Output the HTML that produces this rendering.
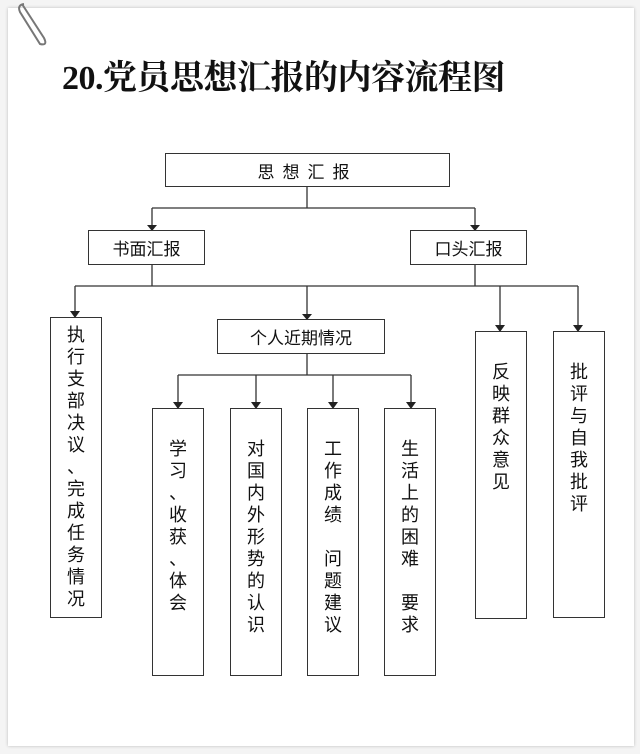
<!DOCTYPE html>
<html><head><meta charset="utf-8"><style>
body{margin:0;width:640px;height:754px;background:#f4f4f4;position:relative;overflow:hidden;font-family:"Liberation Serif","Noto Serif CJK SC","Noto Sans CJK SC",serif;}
.card{position:absolute;left:8px;top:8px;width:626px;height:738px;background:#fff;box-shadow:0 0 3px #bbb;}
.t{position:absolute;left:62px;top:50px;font-size:34px;font-weight:bold;color:#111;letter-spacing:-0.5px;white-space:nowrap;}
.b{position:absolute;border:1.5px solid #333;box-sizing:border-box;background:#fff;color:#111;font-family:"Noto Sans CJK SC",sans-serif;font-size:17px;text-align:center;}
.h{display:flex;align-items:center;justify-content:center;}
.v{line-height:22px;font-size:18px;}
</style></head><body>
<div class="card"></div>
<svg style="position:absolute;left:0;top:0" width="640" height="754">
<path d="M22 4 L44 38 Q48 46 40 44 L20 12 Q17 5 24 4" fill="none" stroke="#777" stroke-width="2"/>
<g stroke="#333" stroke-width="1.3" fill="none">
<path d="M307 186 V208 M152 208 H475 M152 208 V226 M475 208 V226"/>
<path d="M152 264 V286 M475 264 V286 M75 286 H578 M75 286 V313 M307 286 V316 M500 286 V327 M578 286 V327"/>
<path d="M307 353 V375 M178 375 H411 M178 375 V404 M256 375 V404 M333 375 V404 M411 375 V404"/>
</g>
<g fill="#222">
<path d="M147 225 L157 225 L152 231Z"/><path d="M470 225 L480 225 L475 231Z"/>
<path d="M70 311 L80 311 L75 318Z"/><path d="M302 314 L312 314 L307 320Z"/>
<path d="M495 325 L505 325 L500 332Z"/><path d="M573 325 L583 325 L578 332Z"/>
<path d="M173 402 L183 402 L178 409Z"/><path d="M251 402 L261 402 L256 409Z"/>
<path d="M328 402 L338 402 L333 409Z"/><path d="M406 402 L416 402 L411 409Z"/>
</g>
</svg>
<div class="t">20.党员思想汇报的内容流程图</div>
<div class="b h" style="left:165px;top:153px;width:285px;height:34px;letter-spacing:8px;">思想汇报</div>
<div class="b h" style="left:88px;top:230px;width:117px;height:35px;">书面汇报</div>
<div class="b h" style="left:410px;top:230px;width:117px;height:35px;">口头汇报</div>
<div class="b h" style="left:217px;top:319px;width:168px;height:35px;">个人近期情况</div>
<div class="b v" style="left:50px;top:317px;width:52px;height:301px;padding-top:5px;">执<br>行<br>支<br>部<br>决<br>议<br>、<br>完<br>成<br>任<br>务<br>情<br>况</div>
<div class="b v" style="left:152px;top:408px;width:52px;height:268px;padding-top:28px;">学<br>习<br>、<br>收<br>获<br>、<br>体<br>会</div>
<div class="b v" style="left:230px;top:408px;width:52px;height:268px;padding-top:28px;">对<br>国<br>内<br>外<br>形<br>势<br>的<br>认<br>识</div>
<div class="b v" style="left:307px;top:408px;width:52px;height:268px;padding-top:28px;">工<br>作<br>成<br>绩<br>&nbsp;<br>问<br>题<br>建<br>议</div>
<div class="b v" style="left:384px;top:408px;width:52px;height:268px;padding-top:28px;">生<br>活<br>上<br>的<br>困<br>难<br>&nbsp;<br>要<br>求</div>
<div class="b v" style="left:475px;top:331px;width:52px;height:288px;padding-top:28px;">反<br>映<br>群<br>众<br>意<br>见</div>
<div class="b v" style="left:553px;top:331px;width:52px;height:287px;padding-top:28px;">批<br>评<br>与<br>自<br>我<br>批<br>评</div>
</body></html>
